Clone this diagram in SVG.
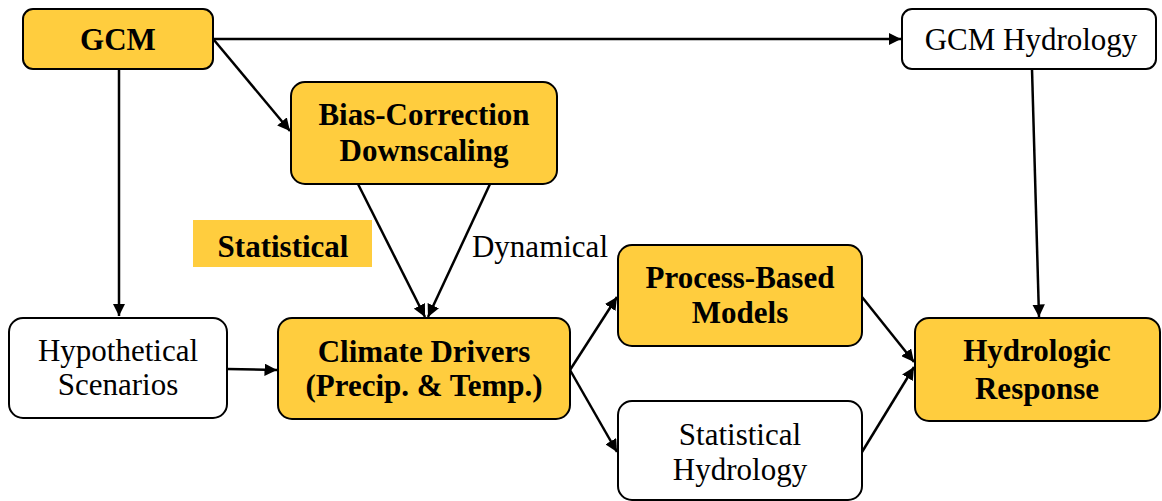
<svg xmlns="http://www.w3.org/2000/svg" width="1162" height="501" viewBox="0 0 1162 501">
<style>
.y{fill:#FFCD3E;stroke:#000;stroke-width:2}
.w{fill:#fff;stroke:#000;stroke-width:2}
text{font-family:"Liberation Serif","Times New Roman",serif;font-size:31px;fill:#000;text-anchor:middle}
.b{font-weight:bold}
.c{stroke:#000;stroke-width:2.5;fill:none;marker-end:url(#ah)}
</style>
<defs>
<marker id="ah" viewBox="0 0 10 10" refX="10" refY="5" markerWidth="5" markerHeight="5" orient="auto" markerUnits="strokeWidth">
<path d="M0,0 L10,5 L0,10 z" fill="#000"/>
</marker>
</defs>
<g id="connectors">
<line class="c" x1="213" y1="39" x2="901" y2="39"/>
<line class="c" x1="214" y1="40" x2="290" y2="131"/>
<line class="c" x1="119" y1="69" x2="119" y2="316"/>
<line class="c" x1="358" y1="184" x2="425" y2="317"/>
<line class="c" x1="490" y1="184" x2="428" y2="317"/>
<line class="c" x1="227" y1="369" x2="277" y2="370"/>
<line class="c" x1="570" y1="370" x2="617" y2="297"/>
<line class="c" x1="570" y1="370" x2="617" y2="452"/>
<line class="c" x1="862" y1="297" x2="914" y2="362"/>
<line class="c" x1="862" y1="452" x2="914" y2="367"/>
<line class="c" x1="1032" y1="69" x2="1039" y2="317"/>
</g>
<g id="gcm"><rect class="y" x="23" y="9" width="190" height="60" rx="10"/><text class="b" x="118" y="50">GCM</text></g>
<g id="gcm-hydrology"><rect class="w" x="902" y="9" width="254" height="60" rx="10"/><text x="1031" y="50">GCM Hydrology</text></g>
<g id="bias-correction"><rect class="y" x="291" y="82" width="266" height="102" rx="14"/><text class="b" x="424" y="125">Bias-Correction</text><text class="b" x="424" y="161">Downscaling</text></g>
<g id="statistical-label"><rect x="193" y="220" width="179" height="47" fill="#FFCD3E"/><text class="b" x="283" y="257">Statistical</text></g>
<g id="dynamical-label"><text x="540" y="257">Dynamical</text></g>
<g id="hypothetical"><rect class="w" x="9" y="318" width="218" height="100" rx="14"/><text x="118" y="361">Hypothetical</text><text x="118" y="395">Scenarios</text></g>
<g id="climate-drivers"><rect class="y" x="278" y="318" width="292" height="101" rx="14"/><text class="b" x="424" y="362">Climate Drivers</text><text class="b" x="424" y="396">(Precip. &amp; Temp.)</text></g>
<g id="process-based"><rect class="y" x="618" y="245" width="244" height="101" rx="14"/><text class="b" x="740" y="288">Process-Based</text><text class="b" x="740" y="323">Models</text></g>
<g id="statistical-hydrology"><rect class="w" x="618" y="401" width="244" height="99" rx="14"/><text x="740" y="445">Statistical</text><text x="740" y="480">Hydrology</text></g>
<g id="hydrologic-response"><rect class="y" x="915" y="318" width="245" height="103" rx="14"/><text class="b" x="1037" y="361">Hydrologic</text><text class="b" x="1037" y="399">Response</text></g>
</svg>
